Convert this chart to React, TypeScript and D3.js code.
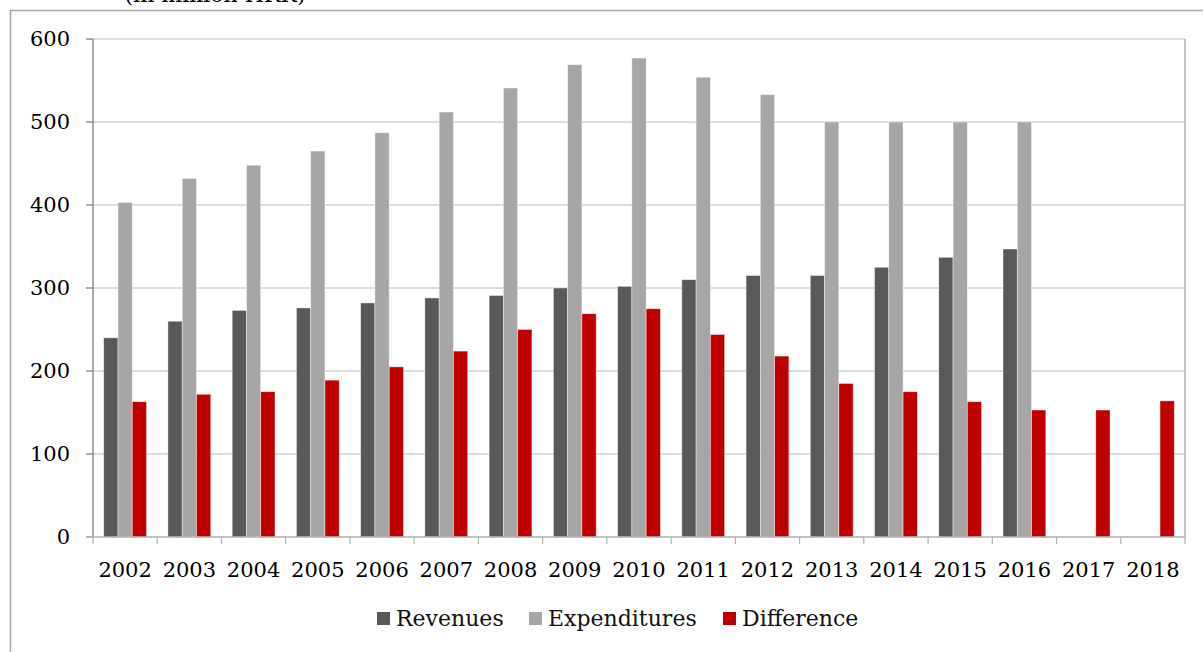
import React from 'react';
import * as d3 from 'd3';

const years = ['2002', '2003', '2004', '2005', '2006', '2007', '2008', '2009', '2010', '2011', '2012', '2013', '2014', '2015', '2016', '2017', '2018'];
const revenues: (number | null)[] = [240, 260, 273, 276, 282, 288, 291, 300, 302, 310, 315, 315, 325, 337, 347, null, null];
const expenditures: (number | null)[] = [403, 432, 448, 465, 487, 512, 541, 569, 577, 554, 533, 500, 500, 500, 500, null, null];
const difference: (number | null)[] = [163, 172, 175, 189, 205, 224, 250, 269, 275, 244, 218, 185, 175, 163, 153, 153, 164];
const yTicks = [0, 100, 200, 300, 400, 500, 600];

const seriesNames = ['Revenues', 'Expenditures', 'Difference'];
const seriesColors = ['#595959', '#a6a6a6', '#c00000'];
const seriesValues = [revenues, expenditures, difference];

const W = 1203;
const H = 652;
const margin = { top: 39, right: 18, bottom: 115, left: 93 };
const font = '"DejaVu Serif", serif';

const App: React.FC = () => {
  const x = d3.scaleBand<string>()
    .domain(years)
    .range([margin.left, W - margin.right])
    .padding(0);

  const xs = d3.scaleBand<string>()
    .domain(seriesNames)
    .range([0, x.bandwidth()])
    .paddingInner(0)
    .paddingOuter(0.75);

  const y = d3.scaleLinear()
    .domain([0, 600])
    .range([H - margin.bottom, margin.top]);

  const x0 = margin.left;
  const x1 = W - margin.right;
  const yBase = y(0);

  // legend layout
  const legendItems = [
    { name: 'Revenues', color: seriesColors[0], x: 377 },
    { name: 'Expenditures', color: seriesColors[1], x: 529 },
    { name: 'Difference', color: seriesColors[2], x: 723 },
  ];

  return (
    <svg width={W} height={H} style={{ position: 'fixed', left: 0, top: 0, background: '#fff' }} fontFamily={font}>
      {/* outer frame */}
      <line x1={10.5} x2={W} y1={10.5} y2={10.5} stroke="#a6a6a6" strokeWidth={1.5} />
      <line x1={10.5} x2={10.5} y1={10} y2={H} stroke="#a6a6a6" strokeWidth={1.5} />

      <text x={215} y={2} fontSize={22} textAnchor="middle" fill="#000">(in million HRK)</text>

      {/* gridlines */}
      {yTicks.filter(t => t > 0).map(t => (
        <line key={t} x1={x0 - 7} x2={x1} y1={y(t)} y2={y(t)} stroke="#d0d0d0" strokeWidth={1.5} />
      ))}
      <line x1={x1} x2={x1} y1={margin.top} y2={yBase} stroke="#b0b0b0" strokeWidth={1.5} />

      {/* bars */}
      {seriesValues.map((vals, si) => (
        <g key={seriesNames[si]}>
          {vals.map((v, i) => v == null ? null : (
            <rect
              key={years[i]}
              x={(x(years[i]) ?? 0) + (xs(seriesNames[si]) ?? 0)}
              y={y(v)}
              width={xs.bandwidth()}
              height={yBase - y(v)}
              fill={seriesColors[si]}
              stroke="#ffffff"
              strokeOpacity={0.6}
              strokeWidth={0.7}
            />
          ))}
        </g>
      ))}

      {/* y axis */}
      <line x1={x0} x2={x0} y1={margin.top} y2={yBase} stroke="#8c8c8c" strokeWidth={1.5} />
      {yTicks.map(t => (
        <g key={t}>
          <line x1={x0 - 7} x2={x0} y1={y(t)} y2={y(t)} stroke="#8c8c8c" strokeWidth={1.2} />
          <text x={70} y={y(t)} dy="0.35em" textAnchor="end" fontSize={21} fill="#000"
            style={{ fontVariantNumeric: 'oldstyle-nums' }}>{t}</text>
        </g>
      ))}

      {/* x axis */}
      <line x1={x0 - 7} x2={x1} y1={yBase} y2={yBase} stroke="#b0b0b0" strokeWidth={1.5} />
      {years.concat(['end']).map((yr, i) => {
        const px = i < years.length ? (x(yr) ?? 0) : x1;
        return <line key={yr} x1={px} x2={px} y1={yBase} y2={yBase + 7} stroke="#b0b0b0" strokeWidth={1.2} />;
      })}
      {years.map(yr => (
        <text key={yr} x={(x(yr) ?? 0) + x.bandwidth() / 2} y={yBase + 40} textAnchor="middle" fontSize={21} fill="#000"
          style={{ fontVariantNumeric: 'oldstyle-nums' }}>{yr}</text>
      ))}

      {/* legend */}
      {legendItems.map(it => (
        <g key={it.name}>
          <rect x={it.x} y={612} width={13} height={13} fill={it.color} />
          <text x={it.x + 19} y={626} fontSize={22} fill="#111">{it.name}</text>
        </g>
      ))}
    </svg>
  );
};

export default App;
